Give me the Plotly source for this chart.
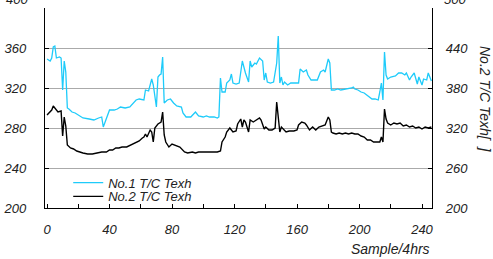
import plotly.graph_objects as go

# No.1 T/C Texh (cyan)
s1_x = [0, 2, 3, 4, 5, 6, 8, 9, 10, 11, 12, 13, 14, 16, 18, 20, 23, 27, 30, 33, 35, 36, 38, 40, 43, 45, 47, 50, 53, 55, 57, 59, 61, 62, 63, 65, 67, 68, 70, 71, 72, 73, 74, 75, 77, 79, 81, 83, 86, 87, 89, 92, 95, 97, 100, 102, 104, 107, 109, 110, 111, 112, 114, 115, 117, 118, 119, 121, 123, 125, 126, 127, 129, 130, 131, 133, 134, 136, 138, 139, 140, 141, 143, 145, 147, 148, 149, 150, 151, 152, 154, 156, 159, 161, 162, 164, 166, 167, 169, 171, 173, 175, 177, 178, 180, 181, 182, 184, 186, 188, 191, 193, 195, 196, 197, 199, 201, 203, 206, 208, 210, 212, 213, 214, 215, 216, 217, 218, 220, 223, 225, 227, 229, 230, 232, 233, 235, 237, 238, 240, 241, 243, 244, 246]
s1_y = [349, 347, 350, 361, 362, 350, 351, 350, 318, 347, 336, 300, 299, 296, 295, 293, 290, 289, 288, 290, 291, 281, 289, 298, 298, 299, 301, 300, 301, 304, 308, 309, 308, 308, 318, 317, 329, 323, 301, 331, 333, 334, 351, 305, 308, 309, 305, 302, 301, 295, 291, 291, 296, 292, 291, 292, 291, 291, 290, 291, 330, 316, 316, 325, 328, 334, 325, 324, 325, 347, 341, 335, 326, 347, 341, 345, 344, 350, 347, 328, 335, 326, 325, 326, 345, 372, 325, 331, 323, 326, 323, 325, 325, 325, 339, 336, 338, 333, 328, 328, 328, 336, 338, 336, 349, 345, 318, 318, 319, 318, 319, 319, 320, 321, 319, 318, 316, 315, 311, 309, 309, 308, 316, 325, 308, 356, 333, 329, 331, 332, 335, 335, 333, 335, 328, 331, 335, 324, 331, 323, 329, 328, 335, 327]

# No.2 T/C Texh (black)
s2_x = [0, 1, 3, 4, 5, 6, 7, 9, 10, 11, 12, 13, 15, 17, 19, 23, 26, 29, 32, 35, 38, 40, 42, 44, 46, 48, 51, 54, 57, 59, 61, 62, 63, 64, 66, 67, 68, 69, 71, 73, 74, 75, 76, 78, 80, 82, 85, 88, 90, 93, 95, 97, 99, 101, 104, 106, 109, 111, 112, 114, 115, 117, 119, 121, 122, 124, 125, 126, 127, 129, 130, 132, 134, 136, 137, 139, 140, 142, 144, 146, 147, 149, 150, 152, 153, 155, 158, 160, 161, 163, 165, 166, 168, 170, 172, 174, 176, 178, 180, 181, 182, 183, 185, 187, 189, 191, 193, 195, 197, 199, 201, 203, 205, 207, 209, 211, 213, 214, 215, 216, 217, 218, 220, 222, 224, 226, 228, 230, 232, 234, 236, 238, 240, 242, 244, 246]
s2_y = [293, 295, 298, 302, 300, 297, 296, 297, 272, 291, 282, 263, 260, 259, 257, 255, 254, 254, 255, 256, 256, 258, 258, 260, 260, 261, 261, 263, 265, 267, 270, 271, 274, 271, 278, 276, 266, 280, 284, 286, 296, 273, 266, 261, 264, 263, 261, 256, 255, 256, 255, 256, 256, 256, 256, 256, 256, 257, 266, 271, 276, 280, 276, 277, 284, 289, 281, 288, 286, 276, 288, 286, 288, 290, 288, 279, 281, 278, 278, 280, 306, 276, 281, 277, 276, 277, 277, 278, 283, 286, 285, 283, 278, 281, 278, 281, 282, 283, 291, 288, 276, 275, 274, 275, 274, 275, 274, 275, 274, 274, 272, 271, 268, 268, 266, 266, 266, 271, 266, 299, 289, 285, 283, 285, 284, 285, 282, 283, 281, 282, 280, 281, 279, 281, 280, 281]

names = ["No.1 T/C Texh", "No.2 T/C Texh"]
x_ticks = list(range(0, 241, 20))
left_ticks = [200, 240, 280, 320, 360, 400]
right_ticks = [200, 260, 320, 380, 440, 500]

FONT = "Liberation Sans, Arial, sans-serif"
CYAN = "#1ECBFA"
TXT = "#222222"


def it(s):
    return "<i>" + s + "</i>"


fig = go.Figure()
fig.add_trace(go.Scatter(x=s1_x, y=s1_y, mode="lines", name=it(names[0]),
                         line=dict(color=CYAN, width=1.3), legend="legend"))
fig.add_trace(go.Scatter(x=s2_x, y=s2_y, mode="lines", name=it(names[1]),
                         line=dict(color="#000000", width=1.4), legend="legend2"))
# empty trace so that the right-hand axis is drawn
fig.add_trace(go.Scatter(x=[None], y=[None], yaxis="y2", mode="lines",
                         showlegend=False, hoverinfo="skip"))

tickfont = dict(family=FONT, size=13, color=TXT)

fig.update_layout(
    width=493, height=259,
    margin=dict(l=45, r=61, t=8, b=51, autoexpand=False),
    paper_bgcolor="white", plot_bgcolor="white",
    showlegend=True,
    xaxis=dict(range=[-1.3, 246.4], tickmode="array", tickvals=x_ticks,
               ticktext=[it(str(v)) if v % 40 == 0 else "" for v in x_ticks],
               ticks="inside", ticklen=4, tickcolor="#000000", tickwidth=1,
               showline=True, linecolor="#000000", linewidth=1.3, mirror=False,
               showgrid=False, zeroline=False, tickfont=tickfont,
               ticklabelstandoff=9, automargin=False),
    yaxis=dict(range=[200, 400], tickmode="array", tickvals=left_ticks,
               ticktext=[it(str(v)) for v in left_ticks[:-1]] + [""],
               ticks="inside", ticklen=4, tickcolor="#000000",
               showline=True, linecolor="#000000", linewidth=1.3,
               showgrid=True, gridcolor="#AAAAAA", gridwidth=1, zeroline=False,
               tickfont=tickfont, ticklabelstandoff=15, automargin=False),
    yaxis2=dict(range=[200, 500], overlaying="y", side="right", anchor="x",
                tickmode="array", tickvals=right_ticks,
                ticktext=[it(str(v)) for v in right_ticks[:-1]] + [""],
                ticks="inside", ticklen=4, tickcolor="#000000",
                showline=True, linecolor="#000000", linewidth=1.3,
                showgrid=False, zeroline=False, tickfont=tickfont,
                ticklabelstandoff=10, automargin=False),
    legend=dict(x=0.06, y=0.127, xanchor="left", yanchor="middle",
                bgcolor="rgba(0,0,0,0)", borderwidth=0,
                font=dict(family=FONT, size=13, color=TXT),
                itemwidth=30, tracegroupgap=0),
    legend2=dict(x=0.06, y=0.058, xanchor="left", yanchor="middle",
                 bgcolor="rgba(0,0,0,0)", borderwidth=0,
                 font=dict(family=FONT, size=13, color=TXT),
                 itemwidth=30, tracegroupgap=0),
    annotations=[
        dict(text=it("Sample/4hrs"), xref="paper", yref="paper", x=1.0, y=0,
             xanchor="right", yanchor="middle", yshift=-41, showarrow=False,
             font=dict(family=FONT, size=14, color=TXT)),
        dict(text=it("No.2 T/C Texh[&nbsp;&nbsp;]"), xref="paper", yref="paper", x=1.0, y=0.5,
             xanchor="center", yanchor="middle", xshift=53, yshift=9, textangle=90,
             showarrow=False, font=dict(family=FONT, size=14, color=TXT)),
        dict(text=it("400"), xref="paper", yref="paper", x=0, y=1, xanchor="right",
             yanchor="middle", xshift=-15, yshift=9, showarrow=False, font=tickfont),
        dict(text=it("500"), xref="paper", yref="paper", x=1, y=1, xanchor="left",
             yanchor="middle", xshift=10, yshift=9, showarrow=False, font=tickfont),
    ],
)

fig.write_html("out.html", config={"displayModeBar": False},
               post_script="document.body.style.margin='0';document.body.style.overflow='hidden';")
